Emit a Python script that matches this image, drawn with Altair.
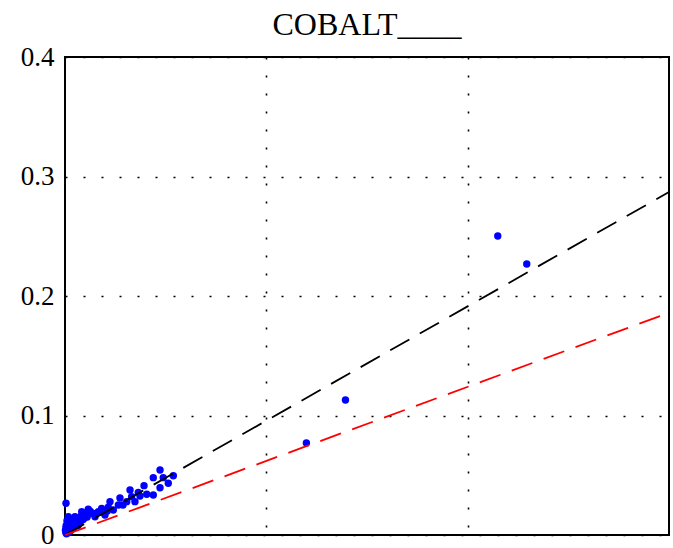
import altair as alt
import pandas as pd

# Measured samples (predicted vs. observed)
xs = [
    0.4299, 0.4587, 0.2786, 0.2398,
    0.0944, 0.1076, 0.0976, 0.0877, 0.1026, 0.0944, 0.0785, 0.0646, 0.0728,
    0.0812, 0.0877, 0.0662, 0.0745, 0.0613, 0.0695, 0.0546, 0.0576,
    0.0010, 0.0447, 0.0430, 0.0364, 0.0331, 0.0231, 0.0166, 0.0099, 0.0033,
    0.0480, 0.0530, 0.0397, 0.0298, 0.0265,
    0.0020, 0.0040, 0.0060, 0.0080, 0.0100, 0.0120, 0.0140, 0.0160, 0.0180,
    0.0200, 0.0220, 0.0010, 0.0030, 0.0050, 0.0070, 0.0090, 0.0110, 0.0130,
    0.0150, 0.0020, 0.0040, 0.0060, 0.0015, 0.0035, 0.0250, 0.0280, 0.0190,
    0.0005, 0.0012, 0.0025, 0.0045, 0.0008, 0.0018, 0.0028, 0.0350, 0.0420,
]
ys = [
    0.2502, 0.2268, 0.1130, 0.0770,
    0.0544, 0.0496, 0.0480, 0.0480, 0.0433, 0.0396, 0.0413, 0.0377, 0.0357,
    0.0341, 0.0335, 0.0321, 0.0326, 0.0279, 0.0279, 0.0310, 0.0251,
    0.0265, 0.0279, 0.0232, 0.0223, 0.0195, 0.0215, 0.0195, 0.0153, 0.0153,
    0.0209, 0.0251, 0.0167, 0.0153, 0.0182,
    0.0120, 0.0100, 0.0130, 0.0110, 0.0090, 0.0140, 0.0120, 0.0160, 0.0130,
    0.0170, 0.0150, 0.0060, 0.0070, 0.0050, 0.0080, 0.0060, 0.0100, 0.0080,
    0.0110, 0.0030, 0.0020, 0.0040, 0.0010, 0.0090, 0.0200, 0.0180, 0.0140,
    0.0040, 0.0080, 0.0110, 0.0130, 0.0020, 0.0050, 0.0070, 0.0190, 0.0200,
]

# Reference fit lines (end points)
line_x = [0.0, 0.6]
black_y = [0.0, 0.287]
red_y = [0.0, 0.186]

title_text = "COBALT____"

pts = pd.DataFrame({"x": xs, "y": ys})
fits = pd.DataFrame({
    "x": line_x + line_x,
    "y": black_y + red_y,
    "fit": ["black"] * 2 + ["red"] * 2,
})

FONT = "Liberation Serif"
xscale = alt.Scale(domain=[0, 0.6], nice=False, zero=False)
yscale = alt.Scale(domain=[0, 0.4], nice=False, zero=False)

xaxis = alt.Axis(
    values=[0.2, 0.4], labels=False, ticks=False, domain=False, title=None,
    grid=True, gridColor="black", gridDash=[2, 16], gridWidth=1.6, gridOpacity=1,
)
yaxis = alt.Axis(
    values=[0, 0.1, 0.2, 0.3, 0.4], ticks=False, domain=False, title=None,
    labelExpr="datum.value == 0 ? '0' : format(datum.value, '.1f')",
    labelFont=FONT, labelFontSize=27, labelColor="black", labelPadding=11,
    grid=True, gridColor="black", gridDash=[2, 16], gridWidth=1.6, gridOpacity=1,
)

scatter = alt.Chart(pts).mark_circle(size=55, color="#0000ff", opacity=1).encode(
    x=alt.X("x:Q", scale=xscale, axis=xaxis),
    y=alt.Y("y:Q", scale=yscale, axis=yaxis),
)

lines = alt.Chart(fits).mark_line(strokeDash=[22, 12], strokeWidth=1.8).encode(
    x=alt.X("x:Q", scale=xscale),
    y=alt.Y("y:Q", scale=yscale),
    detail="fit:N",
    color=alt.Color("fit:N", scale=alt.Scale(domain=["black", "red"], range=["black", "#ff0000"]), legend=None),
)

# Title drawn as a text mark centred over the plot frame
title = alt.Chart(pd.DataFrame({"t": [title_text]})).mark_text(
    font=FONT, fontSize=32, color="black", align="center", baseline="alphabetic",
).encode(
    text="t:N",
    x=alt.value(302),
    y=alt.value(-22),
)

chart = (
    alt.layer(scatter, lines, title)
    .properties(
        width=604,
        height=478,
        background="white",
        autosize=alt.AutoSizeParams(type="none"),
        padding={"left": 65, "top": 57, "right": 4, "bottom": 13},
    )
    .configure_view(stroke="black", strokeWidth=2)
)

chart.save("out.html", embed_options={"renderer": "svg", "actions": False})
